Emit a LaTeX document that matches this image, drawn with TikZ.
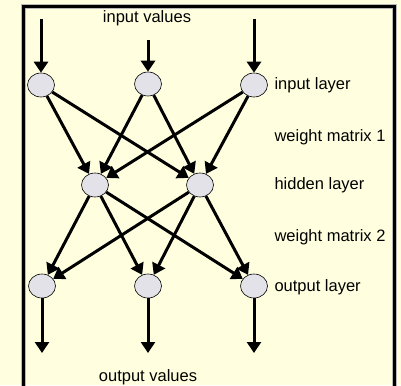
\documentclass[tikz,border=0pt]{standalone}
\usepackage{fontspec}
\setmainfont{Liberation Sans}
\usetikzlibrary{arrows.meta,shapes.geometric}
\definecolor{paper}{RGB}{255,255,224}
\definecolor{unitgray}{RGB}{226,226,232}
\begin{document}
\begin{tikzpicture}[x=1pt, y=-1pt,
    every node/.style={font=\fontsize{16.5}{19}\selectfont},
    unit/.style={ellipse, draw=black, line width=0.6pt, fill=unitgray,
                 minimum width=27pt, minimum height=24pt, inner sep=0pt},
    conn/.style={line width=3pt, -{Triangle[width=14pt,length=11pt]}},
    layername/.style={anchor=west}]
    % --- paper and frame -------------------------------------------------
    \fill[paper] (0,0) rectangle (401,385);
    \useasboundingbox (0,0) rectangle (401,385);
    \draw[gray!55, line width=5.5pt] (23.5,392) -- (23.5,6.5) -- (394.5,6.5) -- (394.5,392);
    \draw[black, line width=3pt] (23.5,392) -- (23.5,6.5) -- (394.5,6.5) -- (394.5,392);

    % --- units -----------------------------------------------------------
    \node[unit] (in1) at (41,85) {};
    \node[unit] (in2) at (148,84) {};
    \node[unit] (in3) at (254,85) {};
    \node[unit] (hid1) at (95,185) {};
    \node[unit] (hid2) at (200,185) {};
    \node[unit] (out1) at (42,286) {};
    \node[unit] (out2) at (148,286) {};
    \node[unit] (out3) at (254,286) {};

    % free ends of the input and output arrows
    \coordinate (src1) at (41,19);
    \coordinate (src2) at (148,40);
    \coordinate (src3) at (254,19);
    \coordinate (dst1) at (42,353);
    \coordinate (dst2) at (148,353);
    \coordinate (dst3) at (254,353);

    % --- connections ---------------------------------------------------
    \foreach \i in {1,2,3} {
      \draw[conn] (src\i) -- (in\i);
      \draw[conn] (out\i) -- (dst\i);
      \foreach \j in {1,2} {
        \draw[conn] (in\i) -- (hid\j);
        \draw[conn] (hid\j) -- (out\i);
      }
    }

    % --- labels ----------------------------------------------------------
    \node (invals) at (147,18) {input values};
    \node (outvals) at (148,377) {output values};
    \node[layername] (lin) at (271,85) {input layer};
    \node[layername] (lw1) at (271,137) {weight matrix 1};
    \node[layername] (lhid) at (271,185) {hidden layer};
    \node[layername] (lw2) at (271,237) {weight matrix 2};
    \node[layername] (lout) at (271,287) {output layer};
\end{tikzpicture}
\end{document}
